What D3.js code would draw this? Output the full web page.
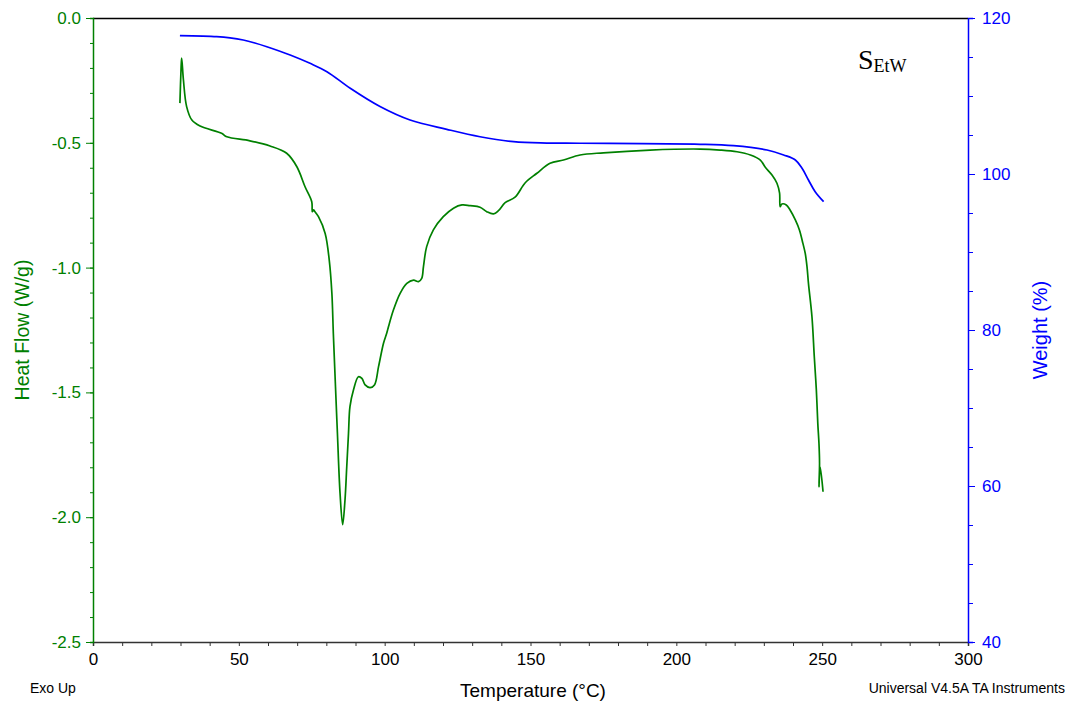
<!DOCTYPE html>
<html lang="en">
<head>
  <meta charset="UTF-8">
  <title>TGA / DSC</title>
  <style>
    body { margin: 0; background: #ffffff; }
    #thesvg { width: 1072px; height: 708px; display: block; font-family: "Liberation Sans", Arial, sans-serif; }
  </style>
</head>
<body>
  <svg id="thesvg" width="1072" height="708"></svg>
  <script src="https://d3js.org/d3.v7.min.js"></script>
  <script>

    // heat flow curve (W/g) vs temperature
    var hfTemp = [29.8, 30.2, 30.4, 31.0, 32.1, 33.9, 36.7, 44.1, 45.9, 53.8, 60.7, 66.4, 69.9, 72.7, 75.0, 75.2, 75.6, 76.1,
      77.3, 79.6, 81.0, 81.9, 82.4, 83.0, 83.8, 84.7, 85.6, 86.4, 87.0, 87.6, 88.1, 89.3, 91.0, 92.2, 93.3, 95.0, 96.5,
      97.9, 99.6, 100.7, 101.3, 103.0, 105.3, 107.6, 109.9, 111.6, 112.7, 113.3, 114.4, 116.7, 120.1, 123.6, 126.5,
      129.3, 132.7, 135.0, 137.3, 139.0, 141.3, 144.7, 148.2, 152.2, 156.7, 161.3, 167.0, 175.0, 191.0, 208.2, 215.0,
      220.8, 225.4, 228.8, 230.5, 232.8, 234.5, 235.4, 235.6, 236.2, 237.7, 239.0, 240.8, 242.2, 243.4, 244.2, 244.8,
      245.3, 246.5, 247.3, 248.0, 248.5, 248.9, 249.1, 248.9, 249.3, 250.3];
    var hfValue = [-0.341, -0.200, -0.161, -0.248, -0.355, -0.409, -0.433, -0.462, -0.476, -0.492, -0.513, -0.542, -0.596,
      -0.676, -0.736, -0.776, -0.769, -0.776, -0.796, -0.863, -0.970, -1.103, -1.263, -1.437, -1.664, -1.904, -2.030,
      -1.931, -1.798, -1.664, -1.557, -1.490, -1.437, -1.444, -1.470, -1.481, -1.470, -1.397, -1.303, -1.263, -1.237,
      -1.170, -1.103, -1.063, -1.050, -1.056, -1.043, -0.996, -0.916, -0.849, -0.796, -0.762, -0.749, -0.752, -0.758,
      -0.776, -0.785, -0.772, -0.740, -0.718, -0.660, -0.622, -0.582, -0.569, -0.549, -0.540, -0.529, -0.525, -0.529,
      -0.536, -0.549, -0.569, -0.598, -0.629, -0.662, -0.702, -0.756, -0.745, -0.749, -0.769, -0.809, -0.849, -0.903,
      -0.943, -0.996, -1.063, -1.197, -1.357, -1.490, -1.624, -1.704, -1.784, -1.878, -1.798, -1.898];

    // weight curve (%) vs temperature
    var wTemp = [29.8, 42.4, 47.0, 51.5, 55.5, 59.6, 67.6, 74.4, 80.2, 88.2, 98.4, 108.7, 121.3, 132.7, 144.2, 155.6, 167.0,
      208.2, 219.6, 231.1, 236.8, 240.8, 243.1, 245.3, 247.6, 250.5];
    var wValue = [117.73, 117.60, 117.45, 117.18, 116.80, 116.32, 115.26, 114.19, 113.12, 110.99, 108.65, 106.92, 105.73,
      104.78, 104.14, 103.97, 103.94, 103.81, 103.63, 103.08, 102.44, 101.79, 100.73, 99.23, 97.73, 96.45];

    var xTicks = [0, 50, 100, 150, 200, 250, 300];
    var hfTicks = [0.0, -0.5, -1.0, -1.5, -2.0, -2.5];
    var wTicks = [40, 60, 80, 100, 120];

    var green = "#008000";
    var blue = "#0000ff";

    var svg = d3.select("#thesvg");

    var plotL = 93, plotR = 968, plotT = 18, plotB = 642;

    var x = d3.scaleLinear().domain([0, 300]).range([plotL, plotR]);
    var yHF = d3.scaleLinear().domain([-2.5, 0]).range([plotB, plotT]);
    var yW = d3.scaleLinear().domain([40, 120]).range([plotB, plotT]);

    // top frame line
    svg.append("line")
      .attr("x1", plotL).attr("x2", plotR)
      .attr("y1", plotT + 0.5).attr("y2", plotT + 0.5)
      .attr("stroke", "#000").attr("stroke-width", 1.5);

    // bottom axis
    var xAxisMinor = d3.axisBottom(x).tickValues(d3.range(0, 301, 10)).tickSize(4).tickFormat("");
    svg.append("g").attr("transform", "translate(0," + plotB + ")").call(xAxisMinor)
      .call(g => g.select(".domain").attr("stroke", "#333").attr("stroke-width", 1.5))
      .call(g => g.selectAll(".tick line").attr("stroke", "#333"));
    var xAxis = d3.axisBottom(x).tickValues(xTicks).tickSize(0).tickPadding(11).tickFormat(d3.format("d"));
    svg.append("g").attr("transform", "translate(0," + plotB + ")").call(xAxis)
      .call(g => g.select(".domain").remove())
      .call(g => g.selectAll(".tick text").attr("font-size", 17).attr("fill", "#000")
        .attr("font-family", "Liberation Sans, Arial, sans-serif"));

    // left axis
    var hfMinor = d3.axisLeft(yHF).tickValues(d3.range(0, 26).map(i => -i / 10)).tickSize(3).tickFormat("");
    svg.append("g").attr("transform", "translate(" + plotL + ",0)").call(hfMinor)
      .call(g => g.select(".domain").attr("stroke", green).attr("stroke-width", 1.5))
      .call(g => g.selectAll(".tick line").attr("stroke", green));
    var hfAxis = d3.axisLeft(yHF).tickValues(hfTicks).tickSize(7).tickPadding(5)
      .tickFormat(d => d3.format(".1f")(d).replace("\u2212", "-"));
    svg.append("g").attr("transform", "translate(" + plotL + ",0)").call(hfAxis)
      .call(g => g.select(".domain").remove())
      .call(g => g.selectAll(".tick line").attr("stroke", green))
      .call(g => g.selectAll(".tick text").attr("font-size", 17).attr("fill", green)
        .attr("font-family", "Liberation Sans, Arial, sans-serif"));

    // right axis
    var wMinor = d3.axisRight(yW).tickValues(d3.range(40, 121, 5)).tickSize(5).tickFormat("");
    svg.append("g").attr("transform", "translate(" + plotR + ",0)").call(wMinor)
      .call(g => g.select(".domain").attr("stroke", blue).attr("stroke-width", 1.5))
      .call(g => g.selectAll(".tick line").attr("stroke", blue));
    var wAxis = d3.axisRight(yW).tickValues(wTicks).tickSize(7).tickPadding(7).tickFormat(d3.format("d"));
    svg.append("g").attr("transform", "translate(" + plotR + ",0)").call(wAxis)
      .call(g => g.select(".domain").remove())
      .call(g => g.selectAll(".tick line").attr("stroke", blue))
      .call(g => g.selectAll(".tick text").attr("font-size", 17).attr("fill", blue)
        .attr("font-family", "Liberation Sans, Arial, sans-serif"));

    // curves
    var hfData = hfTemp.map((t, i) => ({ t: t, v: hfValue[i] }));
    var wData = wTemp.map((t, i) => ({ t: t, v: wValue[i] }));

    svg.append("path")
      .datum(wData)
      .attr("fill", "none")
      .attr("stroke", blue)
      .attr("stroke-width", 1.7)
      .attr("d", d3.line().x(d => x(d.t)).y(d => yW(d.v)).curve(d3.curveCatmullRom.alpha(0.5)));

    svg.append("path")
      .datum(hfData)
      .attr("fill", "none")
      .attr("stroke", green)
      .attr("stroke-width", 1.7)
      .attr("d", d3.line().x(d => x(d.t)).y(d => yHF(d.v)).curve(d3.curveCatmullRom.alpha(0.5)));

    // axis titles
    svg.append("text")
      .attr("transform", "translate(29,330) rotate(-90)")
      .attr("text-anchor", "middle")
      .attr("font-size", 19.5)
      .attr("fill", green)
      .text("Heat Flow (W/g)");

    svg.append("text")
      .attr("transform", "translate(1047,330) rotate(-90)")
      .attr("text-anchor", "middle")
      .attr("font-size", 20)
      .attr("fill", blue)
      .text("Weight (%)");

    svg.append("text")
      .attr("x", 533).attr("y", 697)
      .attr("text-anchor", "middle")
      .attr("font-size", 19)
      .attr("fill", "#000")
      .text("Temperature (°C)");

    svg.append("text")
      .attr("x", 30).attr("y", 693)
      .attr("font-size", 14)
      .attr("fill", "#000")
      .text("Exo Up");

    svg.append("text")
      .attr("x", 1065).attr("y", 693)
      .attr("text-anchor", "end")
      .attr("font-size", 14)
      .attr("fill", "#000")
      .text("Universal V4.5A TA Instruments");

    // sample label (serif, with subscript)
    var lbl = svg.append("text")
      .attr("x", 858).attr("y", 69)
      .style("font-family", "'Liberation Serif', 'Times New Roman', serif")
      .attr("font-size", 28)
      .attr("fill", "#000");
    lbl.append("tspan").text("S");
    lbl.append("tspan").attr("dy", 3).attr("font-size", 18).text("EtW");

  </script>
</body>
</html>
